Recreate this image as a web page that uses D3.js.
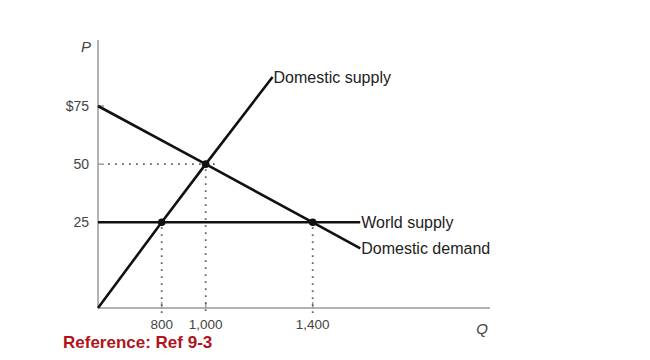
<!DOCTYPE html>
<html>
<head>
<meta charset="utf-8">
<script src="https://cdn.jsdelivr.net/npm/d3@7"></script>
<style>
  html, body { margin: 0; padding: 0; background: #fff; }
  svg { display: block; }
  text { font-family: "Liberation Sans", Arial, Helvetica, sans-serif; }
</style>
</head>
<body>
<svg id="chart" width="650" height="360"></svg>
<script>
// ---- data ----
const xTickValues = [800, 1000, 1400];
const xTickLabels = ["800", "1,000", "1,400"];
const yTickValues = [75, 50, 25];
const yTickLabels = ["$75", "50", "25"];

const domesticSupply = [[0, 0], [800, 25], [1000, 50], [1250, 87.5]];
const domesticDemand = [[0, 75], [1000, 50], [1400, 25], [1577, 17.4]];
const worldSupply = [[0, 25], [1577, 25]];
const equilibria = [[800, 25], [1000, 50], [1400, 25]];
const guideH = [[[0, 50], [1000, 50]]];
const guideV = [[[800, 0], [800, 25]], [[1000, 0], [1000, 50]], [[1400, 0], [1400, 25]]];
const curveLabels = [
  { text: "Domestic supply", at: [1250, 87.5] },
  { text: "World supply", at: [1577, 25] },
  { text: "Domestic demand", at: [1577, 17.4] }
];
const axisTitles = { y: "P", x: "Q" };
const footnote = "Reference: Ref 9-3";

// ---- scales (schematic, piecewise) ----
const x = d3.scaleLinear()
  .domain([0, 800, 1000, 1400, 2060])
  .range([98, 161.7, 205.7, 312.7, 490]);
const y = d3.scaleLinear()
  .domain([0, 25, 75, 103.4])
  .range([308, 222.3, 106, 40]);

const svg = d3.select("#chart");
const line = d3.line().x(d => x(d[0])).y(d => y(d[1]));

// axes
const axisColor = "#9a9a9a";
svg.append("line").attr("x1", x(0)).attr("x2", x(0)).attr("y1", y(103.4)).attr("y2", y(0))
  .attr("stroke", axisColor).attr("stroke-width", 1.5);
svg.append("line").attr("x1", x(0)).attr("x2", x(2060)).attr("y1", y(0)).attr("y2", y(0))
  .attr("stroke", axisColor).attr("stroke-width", 1.5);

// y ticks (inward) and labels
const yAxis = svg.append("g");
yTickValues.forEach((v, i) => {
  yAxis.append("line").attr("x1", x(0)).attr("x2", x(0) + 6).attr("y1", y(v)).attr("y2", y(v))
    .attr("stroke", axisColor).attr("stroke-width", 1.5);
  yAxis.append("text").attr("x", x(0) - 9).attr("y", y(v)).attr("dy", "0.35em")
    .attr("text-anchor", "end").attr("font-size", 14).attr("fill", "#444")
    .text(yTickLabels[i]);
});
// x ticks (inward) and labels
const xAxis = svg.append("g");
xTickValues.forEach((v, i) => {
  xAxis.append("line").attr("x1", x(v)).attr("x2", x(v)).attr("y1", y(0)).attr("y2", y(0) - 6)
    .attr("stroke", axisColor).attr("stroke-width", 1.5);
  xAxis.append("text").attr("x", x(v)).attr("y", y(0) + 20.5)
    .attr("text-anchor", "middle").attr("font-size", 13.5).attr("fill", "#444")
    .text(xTickLabels[i]);
});

// axis titles
svg.append("text").attr("x", 86).attr("y", 52).attr("text-anchor", "middle")
  .attr("font-size", 15).attr("font-style", "italic").attr("fill", "#444").text(axisTitles.y);
svg.append("text").attr("x", 482).attr("y", 334).attr("text-anchor", "middle")
  .attr("font-size", 15).attr("font-style", "italic").attr("fill", "#444").text(axisTitles.x);

// dotted guides
const dotStyle = sel => sel.attr("fill", "none").attr("stroke", "#666").attr("stroke-width", 1.8)
  .attr("stroke-dasharray", "1.8,5.2");
guideH.forEach(g => svg.append("path").attr("d", line([[g[0][0], g[0][1]], g[1]]))
  .call(dotStyle).attr("transform", "translate(10,0)"));
guideV.forEach(g => svg.append("path").attr("d", line([g[1], g[0]])).call(dotStyle)
  .attr("transform", "translate(0,5)"));

// curves
const curveStyle = sel => sel.attr("fill", "none").attr("stroke", "#111").attr("stroke-width", 2.6);
svg.append("path").attr("d", line(worldSupply)).call(curveStyle);
svg.append("path").attr("d", line(domesticDemand)).call(curveStyle);
svg.append("path").attr("d", line(domesticSupply)).call(curveStyle);

// equilibrium dots
svg.selectAll("circle.eq").data(equilibria).enter().append("circle")
  .attr("class", "eq").attr("cx", d => x(d[0])).attr("cy", d => y(d[1])).attr("r", 3.8)
  .attr("fill", "#111");

// curve labels
curveLabels.forEach(l => {
  svg.append("text").attr("x", x(l.at[0]) + 1).attr("y", y(l.at[1])).attr("dy", "0.35em")
    .attr("font-size", 16).attr("fill", "#222").text(l.text);
});

// footnote
svg.append("text").attr("x", 63).attr("y", 347.5).attr("font-size", 17)
  .attr("font-weight", "bold").attr("fill", "#b0141c").text(footnote);
</script>
</body>
</html>
